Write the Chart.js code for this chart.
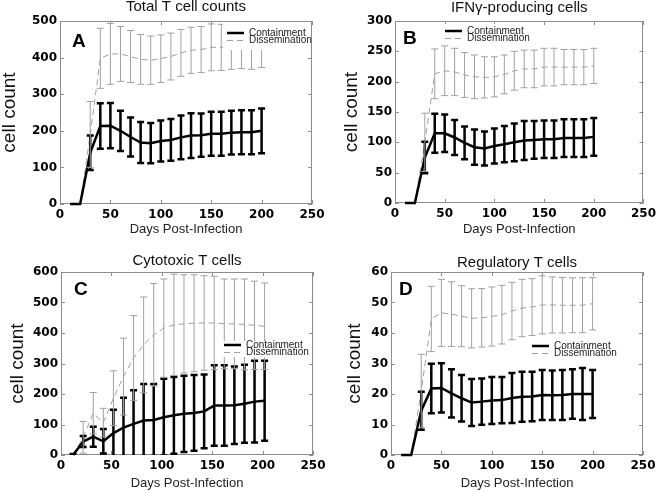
<!DOCTYPE html>
<html>
<head>
<meta charset="utf-8">
<script src="https://cdn.jsdelivr.net/npm/chart.js@4.4.0/dist/chart.umd.min.js"></script>
<style>
  html, body { margin: 0; padding: 0; background: #fff; }
  #wrap { position: relative; width: 660px; height: 491px; overflow: hidden; }
  canvas { position: absolute; }
</style>
</head>
<body>
<div id="wrap">
  <canvas id="chartA" width="330" height="245" style="left:0;top:0"></canvas>
  <canvas id="chartB" width="330" height="245" style="left:330px;top:0"></canvas>
  <canvas id="chartC" width="330" height="246" style="left:0;top:245px"></canvas>
  <canvas id="chartD" width="330" height="246" style="left:330px;top:245px"></canvas>
</div>
<script>
// sampling days (panel C is sampled a couple of days later)
const days  = [10, 20, 30, 40, 50, 60, 70, 80, 90, 100, 110, 120, 130, 140, 150, 160, 170, 180, 190, 200];
const daysC = [12, 22, 32, 42, 52, 62, 72, 82, 92, 102, 112, 122, 132, 142, 152, 162, 172, 182, 192, 202];

// A - Total T cell counts (mean and half error bar)
const aContMean = [0, 0, 140, 213, 214, 200, 183, 168, 166, 172, 175, 182, 187, 188, 192, 192, 195, 196, 196, 200];
const aContErr  = [null, null, 47, 62, 62, 55, 53, 56, 55, 56, 57, 60, 61, 59, 60, 60, 60, 60, 60, 61];
const aDissMean = [0, 0, 190, 398, 410, 410, 403, 395, 393, 397, 403, 413, 420, 422, 428, 428, 428, 428, 428, 430];
const aDissErr  = [null, null, 90, 82, 83, 75, 71, 68, 66, 65, 64, 64, 63, 63, 64, 63, 60, 58, 60, 57];

// B - IFN-gamma producing cells
const bContMean = [0, 0, 75, 115, 115, 108, 99, 92, 90, 94, 97, 100, 103, 104, 105, 105, 107, 107, 107, 109];
const bContErr  = [null, null, 26, 32, 31, 29, 27, 29, 28, 29, 30, 31, 32, 31, 31, 31, 31, 31, 31, 31];
const bDissMean = [0, 0, 100, 213, 218, 216, 211, 208, 207, 208, 212, 218, 221, 221, 224, 224, 224, 224, 224, 226];
const bDissErr  = [null, null, 48, 41, 41, 39, 37, 36, 34, 33, 32, 32, 31, 31, 31, 31, 29, 29, 29, 29];

// C - Cytotoxic T cells
const cContMean = [0, 44, 60, 45, 72, 90, 102, 113, 115, 124, 130, 135, 138, 143, 162, 162, 163, 168, 175, 178];
const cContErr  = [3, 18, 33, 40, 76, 98, 110, 120, 118, 126, 126, 125, 124, 121, 132, 132, 127, 128, 134, 131];
const cDissMean = [0, 58, 137, 106, 186, 257, 318, 361, 394, 416, 427, 430, 432, 433, 433, 430, 430, 428, 425, 422];
const cDissErr  = [null, 52, 68, 47, 90, 126, 139, 157, 168, 161, 166, 161, 159, 155, 153, 147, 147, 149, 145, 142];

// D - Regulatory T cells
const dContMean = [0, 0, 14.5, 21.8, 22, 20.2, 18.6, 17.2, 17.5, 17.9, 18, 18.7, 19.1, 19.2, 19.7, 19.6, 19.7, 20, 20, 20];
const dContErr  = [null, null, 6.2, 8.1, 8.1, 7.9, 7.6, 7.7, 7.6, 7.7, 7.6, 8.2, 8.2, 8.1, 8.2, 8.1, 8.2, 8.1, 8.5, 7.9];
const dDissMean = [0, 0, 21, 44.6, 46.6, 46.2, 45.5, 44.8, 45, 45.4, 46, 47.2, 48.2, 48.5, 49.2, 49.2, 49.1, 49.1, 49.1, 49.6];
const dDissErr  = [null, null, 12, 10.7, 11, 10.6, 10, 9.7, 9.6, 9.7, 9.6, 9.4, 9.4, 9.3, 9.5, 9.2, 9.1, 9, 9, 8.6];

const xTicks = [0, 50, 100, 150, 200, 250];
const seriesNames = ['Containment', 'Dissemination'];

const GRAY = '#a0a0a0';
const FRAME = '#8c8c8c';

// vertical error bars with caps, drawn through the chart scales
const errorBars = {
  id: 'errorBars',
  afterDatasetsDraw(chart) {
    const { ctx, chartArea: a, scales: { x, y } } = chart;
    ctx.save();
    ctx.beginPath();
    ctx.rect(a.left, a.top, a.width, a.height);
    ctx.clip();
    chart.data.datasets.forEach(ds => {
      ctx.strokeStyle = ds.borderColor;
      ctx.lineWidth = ds.errWidth;
      ctx.setLineDash([]);
      ds.data.forEach((p, i) => {
        const e = ds.errs[i];
        if (e == null) return;
        const px = x.getPixelForValue(p.x);
        const hi = y.getPixelForValue(p.y + e);
        const lo = y.getPixelForValue(p.y - e);
        ctx.beginPath();
        ctx.moveTo(px, hi); ctx.lineTo(px, lo);
        ctx.moveTo(px - 3.5, hi); ctx.lineTo(px + 3.5, hi);
        ctx.moveTo(px - 3.5, lo); ctx.lineTo(px + 3.5, lo);
        ctx.stroke();
      });
    });
    ctx.restore();
  }
};

// matlab-ish box with inner ticks (under the data), then letter + legend on top
const frame = {
  id: 'frame',
  beforeDatasetsDraw(chart) {
    const { ctx, chartArea: a, scales: { x, y } } = chart;
    ctx.save();
    ctx.strokeStyle = FRAME;
    ctx.lineWidth = 1;
    ctx.strokeRect(Math.round(a.left) + 0.5, Math.round(a.top) + 0.5,
                   Math.round(a.width) - 1, Math.round(a.height) - 1);
    ctx.beginPath();
    x.ticks.forEach(t => {
      const px = Math.round(x.getPixelForValue(t.value)) + 0.5;
      ctx.moveTo(px, a.bottom); ctx.lineTo(px, a.bottom - 4);
      ctx.moveTo(px, a.top); ctx.lineTo(px, a.top + 4);
    });
    y.ticks.forEach(t => {
      const py = Math.round(y.getPixelForValue(t.value)) + 0.5;
      ctx.moveTo(a.left, py); ctx.lineTo(a.left + 4, py);
      ctx.moveTo(a.right, py); ctx.lineTo(a.right - 4, py);
    });
    ctx.stroke();
    ctx.restore();
  },
  afterDraw(chart, args, opts) {
    const { ctx, chartArea: a } = chart;
    const ds = chart.data.datasets;
    ctx.save();

    // legend with white background
    const lg = opts.legend;
    ctx.fillStyle = '#fff';
    ctx.fillRect(lg.box[0], lg.box[1], lg.box[2], lg.box[3]);
    ctx.font = '10px "Liberation Sans", Arial, sans-serif';
    ctx.textBaseline = 'middle';
    ctx.textAlign = 'left';
    ds.forEach((d, i) => {
      const ly = lg.y + i * 7.5;
      ctx.strokeStyle = d.borderColor;
      ctx.lineWidth = d.borderWidth;
      ctx.setLineDash(d.borderDash || []);
      ctx.beginPath();
      ctx.moveTo(lg.x, ly);
      ctx.lineTo(lg.x + 17, ly);
      ctx.stroke();
      ctx.fillStyle = '#222';
      ctx.fillText(d.label, lg.x + 22, ly);
    });
    ctx.setLineDash([]);

    // panel letter
    ctx.fillStyle = '#000';
    ctx.font = 'bold 19px "Liberation Sans", Arial, sans-serif';
    ctx.textBaseline = 'top';
    ctx.fillText(opts.letter, a.left + opts.letterPos[0], a.top + opts.letterPos[1]);
    ctx.restore();
  }
};

function makePanel(id, p) {
  const W = p.size[0], H = p.size[1];
  const toPts = (xs, ys) => xs.map((d, i) => ({ x: d, y: ys[i] }));
  return new Chart(document.getElementById(id), {
    type: 'line',
    data: {
      datasets: [{
        label: seriesNames[0],
        data: toPts(p.days, p.contMean),
        errs: p.contErr,
        borderColor: '#000',
        borderWidth: 2.5,
        errWidth: 2.5,
        pointRadius: 0,
        tension: 0,
        clip: 4,
        order: 0
      }, {
        label: seriesNames[1],
        data: toPts(p.days, p.dissMean),
        errs: p.dissErr,
        borderColor: GRAY,
        borderWidth: 1,
        borderDash: [6, 4],
        errWidth: 1,
        pointRadius: 0,
        tension: 0,
        clip: 4,
        order: 1
      }]
    },
    options: {
      responsive: false,
      animation: false,
      layout: { padding: { left: 0, top: 0, bottom: 0, right: W - p.area.right } },
      scales: {
        x: {
          type: 'linear',
          min: 0, max: 250,
          afterBuildTicks: s => { s.ticks = xTicks.map(v => ({ value: v })); },
          afterFit: s => { s.height = H - p.area.bottom; },
          grid: { display: false, drawTicks: false },
          border: { display: false },
          ticks: {
            padding: 4,
            color: '#000',
            font: { family: 'DejaVu Sans', weight: 'bold', size: 12 }
          },
          title: {
            display: true,
            text: 'Days Post-Infection',
            color: '#222',
            font: { family: 'Liberation Sans', size: 13, lineHeight: 1.2 },
            padding: { top: p.xTitlePad, bottom: p.xTitlePad }
          }
        },
        y: {
          min: 0, max: p.yMax,
          afterBuildTicks: s => { s.ticks = p.yTicks.map(v => ({ value: v })); },
          afterFit: s => { s.width = p.area.left; },
          grid: { display: false, drawTicks: false },
          border: { display: false },
          ticks: {
            padding: 3,
            color: '#000',
            font: { family: 'DejaVu Sans', weight: 'bold', size: 12 }
          },
          title: {
            display: true,
            text: 'cell count',
            color: '#111',
            font: { family: 'Liberation Sans', size: 19, lineHeight: 1 },
            padding: { top: p.yTitlePad, bottom: 0 }
          }
        }
      },
      plugins: {
        legend: { display: false },
        tooltip: { enabled: false },
        title: {
          display: true,
          text: p.title,
          fullSize: false,
          color: '#111',
          font: { family: 'Liberation Sans', size: 15, weight: 'normal', lineHeight: 1.2 },
          padding: { top: p.titlePad[0], bottom: p.titlePad[1] }
        },
        frame: { letter: p.letter, letterPos: p.letterPos, legend: p.legend }
      }
    },
    plugins: [errorBars, frame]
  });
}

makePanel('chartA', {
  title: 'Total T cell counts', letter: 'A',
  days: days, contMean: aContMean, contErr: aContErr, dissMean: aDissMean, dissErr: aDissErr,
  yMax: 500, yTicks: [0, 100, 200, 300, 400, 500],
  size: [330, 245], area: { left: 60, right: 312, top: 21, bottom: 204 },
  titlePad: [-2, 5], xTitlePad: 8, yTitlePad: 0,
  letterPos: [12, 11],
  legend: { x: 227, y: 33, box: [223, 22, 87, 28] }
});

makePanel('chartB', {
  title: 'IFNγ-producing cells', letter: 'B',
  days: days, contMean: bContMean, contErr: bContErr, dissMean: bDissMean, dissErr: bDissErr,
  yMax: 300, yTicks: [0, 50, 100, 150, 200, 250, 300],
  size: [330, 245], area: { left: 65, right: 320, top: 21, bottom: 203 },
  titlePad: [-1, 4], xTitlePad: 8, yTitlePad: 12,
  letterPos: [8, 8],
  legend: { x: 115, y: 31, box: [112, 24, 100, 20] }
});

makePanel('chartC', {
  title: 'Cytotoxic T cells', letter: 'C',
  days: daysC, contMean: cContMean, contErr: cContErr, dissMean: cDissMean, dissErr: cDissErr,
  yMax: 600, yTicks: [0, 100, 200, 300, 400, 500, 600],
  size: [330, 246], area: { left: 61, right: 313, top: 27, bottom: 210 },
  titlePad: [7, 2], xTitlePad: 0, yTitlePad: 8,
  letterPos: [13, 8],
  legend: { x: 224, y: 100, box: [221, 96, 90, 16] }
});

makePanel('chartD', {
  title: 'Regulatory T cells', letter: 'D',
  days: days, contMean: dContMean, contErr: dContErr, dissMean: dDissMean, dissErr: dDissErr,
  yMax: 60, yTicks: [0, 10, 20, 30, 40, 50, 60],
  size: [330, 246], area: { left: 61, right: 313, top: 27, bottom: 210 },
  titlePad: [9, 0], xTitlePad: 0, yTitlePad: 15,
  letterPos: [8, 8],
  legend: { x: 202, y: 101, box: [199, 96, 111, 16] }
});
</script>
</body>
</html>
